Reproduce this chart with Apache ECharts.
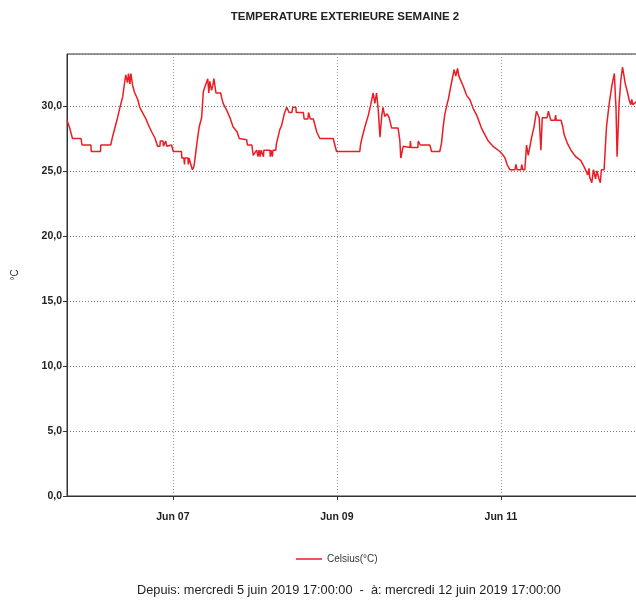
<!DOCTYPE html>
<html>
<head>
<meta charset="utf-8">
<script src="https://cdn.jsdelivr.net/npm/echarts@6/dist/echarts.min.js"></script>
<style>
  html, body { margin: 0; padding: 0; background: #fff; overflow: hidden; }
  body { width: 636px; height: 603px; }
  #chart { width: 660px; height: 603px; }
</style>
</head>
<body>
<div id="chart"></div>
<script>
// Outdoor temperature log, week 2 (5 June 2019 17:00 -> 12 June 2019 17:00)
const chartTitle = 'TEMPERATURE EXTERIEURE SEMAINE 2';
const seriesName = 'Celsius(°C)';
const yAxisName = '°C';
const periodText = 'Depuis: mercredi 5 juin 2019 17:00:00  -  à: mercredi 12 juin 2019 17:00:00';

// Period start (local time) and length in hours
const periodStart = new Date(2019, 5, 5, 17, 0, 0).getTime();
const periodHours = 168;

// Days that carry a label on the time axis
const labelDays = [[2019, 5, 7], [2019, 5, 9], [2019, 5, 11]];
const monthNames = ['Jan', 'Feb', 'Mar', 'Apr', 'May', 'Jun', 'Jul', 'Aug', 'Sep', 'Oct', 'Nov', 'Dec'];

// Logged readings: hours elapsed since the period start, and temperature (°C)
const hoursElapsed = [
  0, 0.4, 0.8, 1.6, 4.1, 4.4, 7.0, 7.1, 9.8, 9.9,
  12.8, 13.3, 14.1, 14.8, 15.5, 16.3, 16.7, 17.2, 17.7, 18.0,
  18.4, 18.7, 19.2, 19.7, 20.7, 21.3, 22.3, 23.1, 23.9, 24.8,
  25.8, 26.3, 26.5, 27.2, 27.3, 28.1, 28.2, 28.9, 29.2, 30.6,
  31.1, 33.5, 33.6, 34.2, 34.4, 34.5, 35.4, 35.5, 35.7, 36.1,
  36.7, 37.1, 37.4, 38.1, 38.7, 39.4, 39.9, 40.4, 41.2, 41.5,
  41.8, 42.3, 42.7, 43.0, 43.6, 45.0, 45.2, 45.7, 46.7, 47.7,
  48.6, 49.8, 50.4, 52.6, 52.8, 54.1, 54.5, 55.0, 55.5, 55.9,
  56.2, 56.5, 56.8, 57.3, 57.5, 57.6, 59.4, 59.5, 59.7, 60.0,
  60.1, 60.3, 61.1, 61.3, 62.3, 62.8, 63.6, 64.3, 64.8, 65.0,
  65.8, 66.1, 67.0, 67.1, 69.2, 69.4, 70.5, 70.7, 71.1, 71.2,
  72.1, 72.6, 73.1, 74.0, 77.9, 78.4, 78.9, 85.7, 85.9, 86.4,
  87.2, 88.2, 88.9, 89.6, 90.1, 90.6, 91.1, 91.6, 92.1, 92.5,
  93.0, 93.7, 94.3, 95.0, 96.9, 97.4, 97.7, 98.4, 100.4, 100.5,
  100.7, 102.7, 102.8, 103.3, 103.4, 106.2, 106.7, 109.1, 109.6, 110.1,
  110.6, 111.3, 111.6, 112.1, 112.7, 113.3, 113.8, 114.3, 114.7, 115.0,
  116.0, 117.0, 117.9, 118.9, 119.9, 120.6, 121.3, 122.3, 123.3, 124.7,
  126.7, 127.7, 128.2, 128.8, 129.6, 131.1, 131.4, 131.7, 132.9, 133.1,
  133.4, 134.0, 134.5, 135.0, 136.0, 136.7, 137.4, 137.8, 138.2, 138.7,
  139.1, 140.5, 140.9, 141.1, 141.6, 142.8, 143.0, 143.2, 144.6, 145.1,
  145.5, 146.5, 147.5, 148.9, 150.4, 151.4, 152.4, 152.8, 153.0, 153.6,
  154.1, 154.7, 155.1, 155.7, 156.1, 156.4, 157.2, 157.9, 158.7, 159.5,
  160.2, 160.7, 161.0, 161.6, 162.1, 162.6, 163.4, 164.1, 164.5, 165.0,
  165.3, 165.6, 166.5, 168.0
];
const temperatures = [
  28.9, 28.9, 28.3, 27.5, 27.5, 27.0, 27.0, 26.5, 26.5, 27.0,
  27.0, 27.6, 28.4, 29.1, 29.9, 30.7, 31.5, 32.4, 31.8, 32.5,
  31.7, 32.5, 31.6, 31.1, 30.5, 29.9, 29.4, 29.0, 28.5, 28.0,
  27.5, 27.5, 26.9, 26.9, 27.3, 27.3, 26.9, 27.3, 26.9, 27.0,
  26.5, 26.5, 26.0, 26.0, 25.5, 26.0, 26.0, 25.5, 26.0, 26.0,
  25.1, 25.3, 25.8, 27.3, 28.4, 29.1, 31.1, 31.5, 32.1, 31.0,
  31.9, 31.2, 31.6, 32.1, 31.0, 31.0, 30.7, 30.2, 29.7, 29.1,
  28.4, 28.0, 27.5, 27.4, 27.0, 27.0, 26.2, 26.2, 26.6, 26.1,
  26.6, 26.1, 26.6, 26.6, 26.1, 26.6, 26.6, 26.1, 26.6, 26.6,
  26.1, 26.6, 26.6, 27.1, 28.2, 28.5, 29.4, 29.9, 29.9, 29.5,
  29.5, 29.9, 29.9, 29.5, 29.5, 29.0, 29.0, 29.5, 29.5, 29.0,
  29.0, 28.5, 28.0, 27.5, 27.5, 27.0, 26.5, 26.5, 27.0, 27.6,
  28.4, 29.3, 30.1, 31.0, 30.2, 31.0, 29.7, 27.6, 29.2, 29.9,
  29.2, 29.4, 29.1, 28.3, 28.3, 27.4, 26.0, 26.9, 26.8, 27.3,
  26.8, 26.8, 27.3, 27.3, 27.0, 27.0, 26.5, 26.5, 27.1, 28.4,
  29.4, 30.2, 30.5, 31.2, 32.0, 32.8, 32.3, 32.9, 32.3, 32.3,
  31.5, 30.8, 30.5, 29.8, 29.3, 28.8, 28.3, 27.8, 27.3, 26.9,
  26.5, 26.2, 26.0, 25.5, 25.1, 25.1, 25.5, 25.1, 25.1, 25.5,
  25.1, 25.1, 27.0, 26.2, 27.6, 28.4, 29.6, 29.6, 29.1, 26.6,
  29.1, 29.1, 29.6, 29.6, 28.9, 28.9, 29.3, 28.9, 28.9, 28.4,
  27.8, 27.1, 26.6, 26.1, 25.8, 25.3, 24.7, 25.2, 24.5, 24.1,
  25.1, 24.4, 25.0, 24.4, 24.1, 25.1, 25.1, 28.4, 30.2, 31.6,
  32.5, 29.7, 26.1, 30.2, 32.0, 33.0, 31.7, 31.0, 30.5, 30.1,
  30.5, 30.1, 30.3, 30.2
];

// Y axis scale
const yMin = 0;
const yMax = 34;
const yStep = 5;

const HOUR = 3600 * 1000;
const points = hoursElapsed.map((h, i) => [periodStart + h * HOUR, temperatures[i]]);
const dayTicks = labelDays.map(d => new Date(d[0], d[1], d[2]).getTime());

const chart = echarts.init(document.getElementById('chart'), null, { renderer: 'canvas' });

chart.setOption({
  animation: false,
  backgroundColor: '#ffffff',
  textStyle: { fontFamily: 'Liberation Sans, Arial, sans-serif' },
  title: {
    text: chartTitle,
    left: 340,
    top: 6,
    textAlign: 'center',
    textStyle: { fontSize: 11.5, fontWeight: 'bold', color: '#222', fontFamily: 'Liberation Sans, Arial, sans-serif' }
  },
  legend: {
    data: [{ name: seriesName, icon: 'rect' }],
    left: 296,
    top: 554,
    padding: 0,
    itemWidth: 26,
    itemHeight: 1.5,
    itemGap: 5,
    textStyle: { fontSize: 10, color: '#333', padding: [0, 0, 0, 0], fontFamily: 'Liberation Sans Narrow, Liberation Sans, Arial, sans-serif' }
  },
  graphic: [{
    type: 'text',
    left: 137,
    top: 584,
    style: {
      text: periodText,
      fontSize: 12.75,
      fill: '#222',
      fontFamily: 'Liberation Sans, Arial, sans-serif'
    }
  }],
  grid: {
    left: 67,
    top: 54,
    width: 574,
    bottom: 107,
    show: true,
    borderColor: '#333',
    borderWidth: 1,
    backgroundColor: 'transparent'
  },
  xAxis: {
    type: 'value',
    min: periodStart,
    max: periodStart + periodHours * HOUR,
    axisLine: { show: true, lineStyle: { color: '#333', width: 1 } },
    axisTick: {
      show: true,
      customValues: dayTicks,
      length: 4,
      lineStyle: { color: '#333' }
    },
    axisLabel: {
      customValues: dayTicks,
      margin: 16,
      fontSize: 10.5,
      fontWeight: 'bold',
      color: '#222',
      formatter: function (v) {
        const d = new Date(v);
        const dd = d.getDate();
        return monthNames[d.getMonth()] + ' ' + (dd < 10 ? '0' + dd : dd);
      }
    },
    splitLine: {
      show: true,
      lineStyle: { color: '#999', type: [1, 2], width: 1 }
    }
  },
  yAxis: {
    type: 'value',
    min: yMin,
    max: yMax,
    interval: yStep,
    name: yAxisName,
    nameLocation: 'middle',
    nameGap: 47,
    nameRotate: 90,
    nameTextStyle: { fontSize: 10, color: '#333' },
    axisLine: { show: true, lineStyle: { color: '#333', width: 1 } },
    axisTick: { show: true, length: 4, lineStyle: { color: '#333' } },
    axisLabel: {
      margin: 5,
      fontSize: 10.5,
      fontWeight: 'bold',
      color: '#222',
      showMaxLabel: false,
      formatter: v => (v % yStep === 0 ? v.toFixed(1).replace('.', ',') : '')
    },
    splitLine: {
      show: true,
      lineStyle: { color: '#777', type: [1, 2], width: 1 }
    }
  },
  series: [{
    name: seriesName,
    type: 'line',
    data: points,
    symbol: 'none',
    showSymbol: false,
    lineStyle: { color: '#ec1c24', width: 1.5 },
    itemStyle: { color: '#ec1c24' }
  }]
});
</script>
</body>
</html>
